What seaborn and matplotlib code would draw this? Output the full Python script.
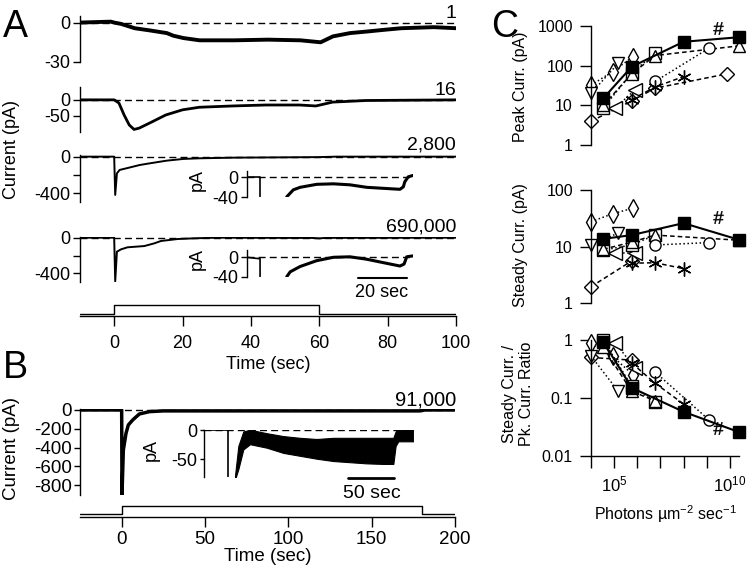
import numpy as np
import matplotlib
matplotlib.use("Agg")
import matplotlib.pyplot as plt
import seaborn as sns

W, H = 747, 573
nan = np.nan

# ---------------- panel A : currents (pA) vs time (sec)
t_a1 = [-10, -1, 0, 2, 6, 10.5, 15.4, 17.3, 20.3, 25, 35, 45, 54.5, 60.4, 64, 69, 74, 79, 84, 93.5, 100]
i_a1 = [0, 0.7, 0, -1, -4.3, -6, -8, -10, -11.8, -13.5, -13.5, -13, -13.5, -15, -10.5, -8, -6.8, -5.5, -4.3, -3.5, -4.3]

t_a2 = [-10, 0, 1.4, 2.9, 4.4, 5.8, 7.3, 10.2, 15.1, 20, 24.9, 34.6, 44.4, 54.2, 59, 63.9, 73.7, 100]
i_a2 = [0, 0, -10, -47, -78, -92, -88, -73, -47, -31, -23, -19, -16, -16, -19, -7, -2, 0]

t_a3 = [-10, 0, 0.3, 0.8, 1.6, 3.6, 7.5, 10.4, 15.3, 20.2, 25, 35, 60, 65, 100]
i_a3 = [0, 0, -418, -182, -145, -127, -91, -73, -44, -25, -18, -11, -5, 0, 0]

t_a4 = [-10, 0, 0.3, 0.8, 2, 3.9, 8.8, 11.7, 13.7, 18.6, 23.5, 30, 58, 60, 62, 100]
i_a4 = [0, 0, -490, -157, -131, -108, -94, -64, -37, -15, -7, 0, -3, -8, -2, 0]

# insets (compressed time axis)
ti_a3_pre = [-5.5, 0, 0]
ii_a3_pre = [1, 1, -45]
ti_a3 = [11, 13.7, 16.5, 23.3, 30.2, 37, 43.9, 50.7, 57.6, 59, 59.6, 61, 63.1]
ii_a3 = [-39, -25, -20, -14, -13, -15, -20, -22, -24, -19, -9, 1, 4]

ti_a4_pre = [-5.5, -2, 0, 0]
ii_a4_pre = [0, -2, -3, -45]
ti_a4 = [11, 12.4, 16.5, 23.3, 30.2, 37, 43.9, 50.7, 57.6, 59.3, 60.4, 63.1]
ii_a4 = [-40, -30, -19, -7, 0, 1, -4, -11, -18, -14, 1, 3]

stim_a_t = [-10, 0, 0, 60, 60, 100]
stim_a = [0, 0, 1, 1, 0, 0]
labels_a = ["1", "16", "2,800", "690,000"]

# ---------------- panel B
t_b = [-25, 0, 0.2, 1, 2.6, 4, 6.6, 10.6, 16.6, 25, 100, 179, 182, 200]
i_b = [0, 0, -900, -427, -249, -160, -107, -43, -18, -10, -10, -10, 0, 0]

tb_pre = [-26.4, 0, 0]
ib_pre = [0, 0, -85]
tb_env = [7.3, 10.9, 16.3, 23.6, 41.7, 59.8, 77.9, 96, 114, 132, 150, 168.5, 179.3, 181.8, 184.7, 201]
ib_hi = [-78, -27, -2, 1, -5, -10, -13, -15, -13, -13, -13, -13, -13, -2, 1, 2]
ib_lo = [-85, -67, -33, -24, -30, -39, -44, -49, -53, -55, -57, -58, -58, -27, -19, -19]

stim_b_t = [-25, 0, 0, 180, 180, 200]
stim_b = [0, 0, 1, 1, 0, 0]

# ---------------- panel C : log10 photons um-2 s-1 ; peak (pA) ; steady (pA) ; steady/peak
sq_x = [4.53, 5.76, 8.0, 10.38]
sq_pk = [15, 94, 400, 520]
sq_st = [13.7, 16, 26, 13.3]
sq_rt = [0.93, 0.15, 0.058, 0.026]

thd_x = [4.0, 4.93, 5.83]
thd_pk = [32, 71, 170]
thd_st = [27.6, 38, 48]
thd_rt = [0.88, 0.52, 0.25]

dia_x = [4.0, 5.76, 6.77, 9.87]
dia_pk = [3.95, 13, 27, 62]
dia_st = [1.96, 5.6, nan, nan]
dia_rt = [0.5, 0.45, nan, nan]

cir_x = [6.77, 9.1]
cir_pk = [40, 275]
cir_st = [10.7, 11.8]
cir_rt = [0.28, 0.042]

ast_x = [5.76, 6.77, 8.0]
ast_pk = [14, 29, 53]
ast_st = [5.1, 5.2, 4.1]
ast_rt = [0.40, 0.18, 0.079]

tdn_x = [4.0, 5.18]
tdn_pk = [20, 115]
tdn_st = [10.5, 17.5]
tdn_rt = [0.53, 0.13]

tlf_x = [5.04, 5.9]
tlf_pk = [8.5, 24.5]
tlf_st = [7.6, 7.6]
tlf_rt = [0.9, 0.33]

osq_x = [4.53, 5.76, 6.77]
osq_pk = [8.6, 65, 205]
osq_st = [8.7, 10.7, 16]
osq_rt = [1.0, 0.16, 0.085]

tup_x = [4.53, 5.76, 6.77, 10.38]
tup_pk = [10, 62, 180, 315]
tup_st = [9, 12, 16, 13]
tup_rt = [0.75, 0.13, 0.09, nan]

hash_x = [9.5]
hash_pk = [870]
hash_st = [33]
hash_rt = [0.030]

sns.set_style("ticks", rc={"axes.edgecolor": "k", "xtick.color": "k", "ytick.color": "k",
                           "text.color": "k", "axes.labelcolor": "k"})
plt.rcParams["font.family"] = ["Liberation Sans", "DejaVu Sans"]
plt.rcParams["mathtext.fontset"] = "custom"
plt.rcParams["mathtext.rm"] = "Liberation Sans"
plt.rcParams["mathtext.it"] = "Liberation Sans:italic"
plt.rcParams["axes.unicode_minus"] = False
plt.rcParams["axes.linewidth"] = 1.0
plt.rcParams["xtick.major.width"] = 1.0
plt.rcParams["ytick.major.width"] = 1.0

fig = plt.figure(figsize=(W / 100, H / 100), dpi=100)


def fx(x):
    return x / W


def fy(y):
    return 1 - y / H


def px_axes(left, top, right, bottom):
    ax = fig.add_axes([left / W, 1 - bottom / H, (right - left) / W, (bottom - top) / H])
    ax.patch.set_alpha(0)
    return ax


def trace(ax, t, y, lw=1.2):
    sns.lineplot(x=t, y=y, ax=ax, color="k", linewidth=lw, estimator=None, sort=False)


def left_only(ax, fs=13, length=5, pad=2):
    for s in ["top", "right", "bottom"]:
        ax.spines[s].set_visible(False)
    ax.set_xticks([])
    ax.tick_params(axis="y", labelsize=fs, length=length, pad=pad)
    ax.set_xlabel("")
    ax.set_ylabel("")


def zero_line(ax):
    ax.axhline(0, color="k", linewidth=1, linestyle=(0, (5, 3)), zorder=0)


# ---------------- panel A
ax1 = px_axes(80, 16, 456, 62)
trace(ax1, t_a1, i_a1, lw=2.8)
ax1.set_xlim(-10, 100)
ax1.set_ylim(-30, 5)
left_only(ax1)
ax1.set_yticks([-30, 0], ["-30", "0"])
zero_line(ax1)

ax2 = px_axes(80, 87, 456, 132)
trace(ax2, t_a2, i_a2, lw=2.0)
ax2.set_xlim(-10, 100)
ax2.set_ylim(-100, 40)
left_only(ax2)
ax2.set_yticks([-50, 0], ["-50", "0"])
zero_line(ax2)

ax3 = px_axes(80, 155, 456, 201.7)
trace(ax3, t_a3, i_a3, lw=1.4)
ax3.set_xlim(-10, 100)
ax3.set_ylim(-492, 18)
left_only(ax3)
ax3.set_yticks([-400, -200, 0], ["-400", "", "0"])
zero_line(ax3)

ax4 = px_axes(80, 236.7, 456, 281.7)
trace(ax4, t_a4, i_a4, lw=1.4)
ax4.set_xlim(-10, 100)
ax4.set_ylim(-494, 11)
left_only(ax4)
ax4.set_yticks([-400, -200, 0], ["-400", "", "0"])
zero_line(ax4)

for lab, yb in zip(labels_a, [18, 95, 150, 232]):
    fig.text(fx(456), fy(yb), lab, ha="right", va="baseline", fontsize=14)

# insets of A
for top, bot, tp, ip, ti, ii, ytop in [(170.7, 197.3, ti_a3_pre, ii_a3_pre, ti_a3, ii_a3, 13.3),
                                       (250, 276.7, ti_a4_pre, ii_a4_pre, ti_a4, ii_a4, 15)]:
    axi = px_axes(246.7, top, 413.3, bot)
    trace(axi, tp, ip, lw=1.2)
    trace(axi, ti, ii, lw=2.2)
    axi.set_xlim(-5.5, 63.1)
    axi.set_ylim(-40, ytop)
    left_only(axi, length=4, pad=2)
    axi.set_yticks([-40, 0], ["-40", "0"])
    zero_line(axi)
    fig.text(fx(197), fy((top + bot) / 2 - 4), "pA", rotation=90, ha="center", va="center", fontsize=13)
ins_a4 = axi
bar_a = (40.3, 20)
ins_a4.plot([bar_a[0], bar_a[0] + bar_a[1]], [-0.04, -0.04], color="k", linewidth=1.5,
            transform=ins_a4.get_xaxis_transform(), clip_on=False)
fig.text(fx(382), fy(292.7), "20 sec", ha="center", va="center", fontsize=13)

fig.text(fx(12), fy(150), "Current (pA)", rotation=90, ha="center", va="center", fontsize=13)

axs = px_axes(80, 300, 456, 316)
trace(axs, stim_a_t, stim_a, lw=1.0)
axs.set_xlim(-10, 100)
axs.set_ylim(-0.22, 1.56)
for s in ["top", "right", "left"]:
    axs.spines[s].set_visible(False)
axs.set_yticks([])
axs.set_xticks([0, 20, 40, 60, 80, 100])
axs.tick_params(axis="x", labelsize=13, length=7.5, pad=6)
axs.set_ylabel("")
axs.set_xlabel("Time (sec)", fontsize=13, labelpad=3)

# ---------------- panel B
axb = px_axes(80, 409.3, 455, 495)
trace(axb, t_b, i_b, lw=2.5)
axb.set_xlim(-25, 200)
axb.set_ylim(-906, 7)
left_only(axb, fs=13.5, length=4, pad=2)
axb.set_yticks([-800, -600, -400, -200, 0])
zero_line(axb)
fig.text(fx(456), fy(405), "91,000", ha="right", va="baseline", fontsize=14.5)
fig.text(fx(12), fy(448), "Current (pA)", rotation=90, ha="center", va="center", fontsize=13.5)

axbi = px_axes(204, 430, 413.3, 476.7)
trace(axbi, tb_pre, ib_pre, lw=1.2)
axbi.fill_between(tb_env, ib_lo, ib_hi, color="k", linewidth=0.8)
axbi.set_xlim(-26.4, 201)
axbi.set_ylim(-80, 0.5)
left_only(axbi, length=3, pad=2)
axbi.set_yticks([-50, 0], ["-50", "0"])
zero_line(axbi)
fig.text(fx(151.7), fy(450), "pA", rotation=90, ha="center", va="center", fontsize=13)
bar_b = (130.4, 50)
axbi.plot([bar_b[0], bar_b[0] + bar_b[1]], [-0.035, -0.035], color="k", linewidth=2,
          transform=axbi.get_xaxis_transform(), clip_on=False)
fig.text(fx(371.7), fy(493.3), "50 sec", ha="center", va="center", fontsize=14)

axsb = px_axes(80, 500, 455, 516.7)
trace(axsb, stim_b_t, stim_b, lw=1.0)
axsb.set_xlim(-25, 200)
axsb.set_ylim(-0.325, 1.69)
for s in ["top", "right", "left"]:
    axsb.spines[s].set_visible(False)
axsb.set_yticks([])
axsb.set_xticks([0, 50, 100, 150, 200])
axsb.tick_params(axis="x", labelsize=13.5, length=7.5, pad=2.5)
axsb.set_ylabel("")
axsb.set_xlabel("Time (sec)", fontsize=13.5, labelpad=0)

# ---------------- panel C
axc1 = px_axes(591, 26, 739, 145)
axc2 = px_axes(591, 190, 739, 303.3)
axc3 = px_axes(591, 340, 739, 456)
c_axes = [axc1, axc2, axc3]
for ax in c_axes:
    ax.set_xscale("log")
    ax.set_yscale("log")

series = [
    (thd_x, [thd_pk, thd_st, thd_rt], "d", ":", "white", 9),
    (dia_x, [dia_pk, dia_st, dia_rt], "D", (0, (3, 2)), "white", 7),
    (tdn_x, [tdn_pk, tdn_st, tdn_rt], "v", ":", "white", 8),
    (tlf_x, [tlf_pk, tlf_st, tlf_rt], "<", ":", "white", 10),
    (osq_x, [osq_pk, osq_st, osq_rt], "s", ":", "white", 8),
    (tup_x, [tup_pk, tup_st, tup_rt], "^", (0, (3, 2)), "white", 8),
    (cir_x, [cir_pk, cir_st, cir_rt], "o", ":", "white", 8),
    (ast_x, [ast_pk, ast_st, ast_rt], (6, 2, 0), (0, (3, 2)), "k", 10),
    (sq_x, [sq_pk, sq_st, sq_rt], "s", "-", "k", 8),
]
for xs, ys, mk, ls, fc, ms in series:
    for ax, yv in zip(c_axes, ys):
        sns.lineplot(x=10 ** np.asarray(xs, dtype=float), y=yv, ax=ax, color="k", marker=mk,
                     markersize=ms, markerfacecolor=fc, markeredgecolor="k", markeredgewidth=1.0,
                     linestyle=ls, linewidth=1.5 if ls == "-" else 1.1,
                     estimator=None, sort=False, clip_on=False)
for ax, yv in zip(c_axes, [hash_pk, hash_st, hash_rt]):
    sns.lineplot(x=10 ** np.asarray(hash_x), y=yv, ax=ax, color="k", marker="$\\#$",
                 markersize=9, markerfacecolor="k", markeredgecolor="k", markeredgewidth=0.3,
                 linestyle="none", estimator=None, clip_on=False)

c_ylims = [(1, 1000), (1, 100), (0.01, 1)]
c_yticks = [([1, 10, 100, 1000], ["1", "10", "100", "1000"]),
            ([1, 10, 100], ["1", "10", "100"]),
            ([0.01, 0.1, 1], ["0.01", "0.1", "1"])]
for ax, yl, (tk, tl) in zip(c_axes, c_ylims, c_yticks):
    ax.set_xlim(1e4, 10 ** 10.4)
    ax.set_ylim(*yl)
    ax.set_yticks(tk, tl)
    ax.yaxis.set_minor_locator(matplotlib.ticker.NullLocator())
    ax.xaxis.set_minor_locator(matplotlib.ticker.NullLocator())
    ax.tick_params(axis="y", labelsize=11.5, length=8, pad=5)
    ax.spines["top"].set_visible(False)
    ax.spines["right"].set_visible(False)
    ax.set_xlabel("")
    ax.set_ylabel("")
for ax in [axc1, axc2]:
    ax.spines["bottom"].set_visible(False)
    ax.set_xticks([])
decades = [10.0 ** k for k in range(4, 11)]
axc3.set_xticks(decades, ["", r"$10^5$", "", "", "", "", r"$10^{10}$"])
axc3.tick_params(axis="x", labelsize=12, length=8.5, pad=5)
axc3.set_xlabel(r"Photons µm$^{-2}$ sec$^{-1}$", fontsize=11.5, labelpad=6)

fig.text(fx(521), fy(87), "Peak Curr. (pA)", rotation=90, ha="center", va="center", fontsize=11.5)
fig.text(fx(521), fy(245), "Steady Curr. (pA)", rotation=90, ha="center", va="center", fontsize=11.5)
fig.text(fx(518), fy(394), "Steady Curr. /\nPk. Curr. Ratio", rotation=90, ha="center",
         va="center", multialignment="center", linespacing=1.15, fontsize=11.5)

# panel letters
fig.text(fx(3), fy(37), "A", fontsize=27, va="baseline", ha="left")
fig.text(fx(3), fy(378), "B", fontsize=27, va="baseline", ha="left")
fig.text(fx(491), fy(37), "C", fontsize=27, va="baseline", ha="left")

fig.savefig("out.png", dpi=100)
